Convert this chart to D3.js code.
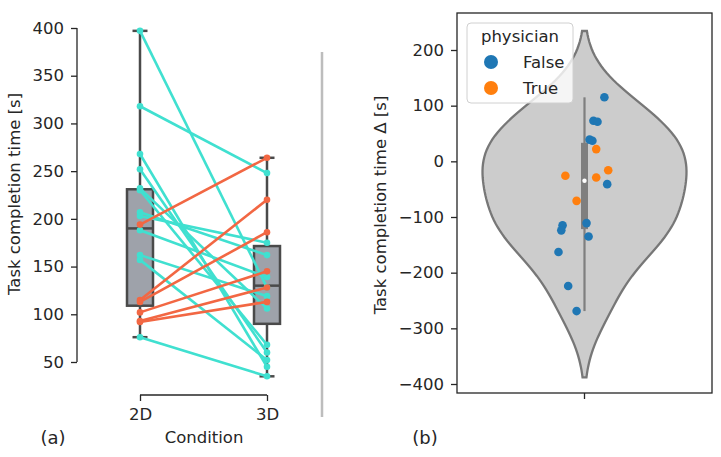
<!DOCTYPE html>
<html><head><meta charset="utf-8">
<script src="https://cdn.jsdelivr.net/npm/d3@7"></script>
<style>body{margin:0;background:#fff} text{font-family:"DejaVu Sans",sans-serif;fill:#262626}</style>
</head><body><svg id="c" width="721" height="457"></svg>
<script>
// ---- Panel (a): paired task completion times ----
const conditions = ["2D", "3D"];
const time2D = [194, 115, 113, 102, 93, 92, 397, 318, 268, 252, 232, 230, 207, 203, 188, 162, 157, 76];
const time3D = [264, 220, 186, 145, 128, 113, 128, 248, 45, 60, 106, 68, 162, 175, 139, 119, 52, 35];
const boxQ1 = [109, 90];
const boxMedian = [190, 130];
const boxQ3 = [231, 171.5];
const whiskerLow = [76, 35];
const whiskerHigh = [397, 264];
const leftTicks = [50, 100, 150, 200, 250, 300, 350, 400];

// ---- Panel (b): differences ----
const deltaValues = [115, 73, 71, 39, 37, -41, -111, -115, -124, -135, -163, -224, -269, 22, -16, -26, -29, -71];
const physician = [false, false, false, false, false, false, false, false, false, false, false, false, false, true, true, true, true, true];
const jitter = [0.078, 0.035, 0.051, 0.020, 0.031, 0.089, 0.008, -0.086, -0.091, 0.016, -0.102, -0.064, -0.031, 0.046, 0.093, -0.075, 0.046, -0.031];
const rightTicks = [-400, -300, -200, -100, 0, 100, 200];
const legendLabels = ["False", "True"];

const svg = d3.select("#c");
const FS = 16.5;
const dark = "#262626";

// ---------- Panel (a) ----------
const xA = d3.scalePoint().domain(conditions).range([140, 267]);
const yA = d3.scaleLinear().domain([50, 400]).range([362, 28]);
const gA = svg.append("g");
const boxW = 26;
conditions.forEach((c, i) => {
  const cx = xA(c);
  gA.append("line").attr("x1", cx).attr("x2", cx).attr("y1", yA(boxQ3[i])).attr("y2", yA(whiskerHigh[i])).attr("stroke", "#4a4a4a").attr("stroke-width", 2.5);
  gA.append("line").attr("x1", cx).attr("x2", cx).attr("y1", yA(boxQ1[i])).attr("y2", yA(whiskerLow[i])).attr("stroke", "#4a4a4a").attr("stroke-width", 2.5);
  [whiskerHigh[i], whiskerLow[i]].forEach(v => {
    gA.append("line").attr("x1", cx - 7.5).attr("x2", cx + 7.5).attr("y1", yA(v)).attr("y2", yA(v)).attr("stroke", "#4a4a4a").attr("stroke-width", 2.5);
  });
  gA.append("rect").attr("x", cx - boxW / 2).attr("width", boxW).attr("y", yA(boxQ3[i])).attr("height", yA(boxQ1[i]) - yA(boxQ3[i]))
    .attr("fill", "#9ea2aa").attr("stroke", "#4a4a4a").attr("stroke-width", 2.5);
  gA.append("line").attr("x1", cx - boxW / 2).attr("x2", cx + boxW / 2).attr("y1", yA(boxMedian[i])).attr("y2", yA(boxMedian[i])).attr("stroke", "#4a4a4a").attr("stroke-width", 2.5);
});
const pairs = time2D.map((v, i) => ({a: v, b: time3D[i], up: time3D[i] > v}));
const colUp = "#f26743", colDown = "#40e0d0";
const ordered = pairs.filter(p => !p.up).concat(pairs.filter(p => p.up));
ordered.forEach(p => {
  const col = p.up ? colUp : colDown;
  gA.append("line").attr("x1", xA("2D")).attr("y1", yA(p.a)).attr("x2", xA("3D")).attr("y2", yA(p.b))
    .attr("stroke", col).attr("stroke-width", 2.6);
  gA.append("circle").attr("cx", xA("2D")).attr("cy", yA(p.a)).attr("r", 3.3).attr("fill", col);
  gA.append("circle").attr("cx", xA("3D")).attr("cy", yA(p.b)).attr("r", 3.3).attr("fill", col);
});
const axL = svg.append("g").attr("transform", "translate(77,0)")
  .call(d3.axisLeft(yA).tickValues(leftTicks).tickSize(6).tickPadding(7));
axL.select(".domain").attr("stroke", dark).attr("stroke-width", 1.3).attr("d", `M0,${yA(400)}V${yA(50)}`);
axL.selectAll(".tick line").attr("stroke", dark).attr("stroke-width", 1.3);
axL.selectAll(".tick text").style("font-size", FS + "px").style("font-family", "DejaVu Sans").attr("fill", dark);
const axB = svg.append("g").attr("transform", "translate(0,395)")
  .call(d3.axisBottom(xA).tickSize(6).tickPadding(7));
axB.select(".domain").attr("stroke", dark).attr("stroke-width", 1.3).attr("d", `M${xA("2D")},0H${xA("3D")}`);
axB.selectAll(".tick line").attr("stroke", dark).attr("stroke-width", 1.3);
axB.selectAll(".tick text").style("font-size", FS + "px").style("font-family", "DejaVu Sans").attr("fill", dark);
svg.append("text").attr("x", 204).attr("y", 443).attr("text-anchor", "middle").style("font-size", FS + "px").text("Condition");
svg.append("text").attr("transform", "translate(20,194) rotate(-90)").attr("text-anchor", "middle").style("font-size", FS + "px").text("Task completion time [s]");
svg.append("text").attr("x", 53).attr("y", 444).attr("text-anchor", "middle").style("font-size", "18px").text("(a)");

svg.append("line").attr("x1", 322).attr("x2", 322).attr("y1", 52).attr("y2", 417).attr("stroke", "#bdbdbd").attr("stroke-width", 2.5);

// ---------- Panel (b) ----------
const xB = d3.scaleLinear().domain([-0.5, 0.5]).range([457, 712]);
const yB = d3.scaleLinear().domain([-400, 200]).range([384, 50]);
const gB = svg.append("g");
const n = deltaValues.length;
const sd = d3.deviation(deltaValues);
const bw = sd * Math.pow(n, -1 / 5);
const lo = d3.min(deltaValues) - 2 * bw, hi = d3.max(deltaValues) + 2 * bw;
const grid = d3.range(100).map(i => lo + (hi - lo) * i / 99);
const dens = grid.map(g => d3.sum(deltaValues, v => Math.exp(-0.5 * ((g - v) / bw) ** 2)));
const dmax = d3.max(dens);
const prof = grid.map((g, i) => ({v: g, w: dens[i] / dmax * 0.4}));
const area = d3.area().y(d => yB(d.v)).x0(d => xB(-d.w)).x1(d => xB(d.w));
gB.append("path").datum(prof).attr("d", area).attr("fill", "#cccccc").attr("stroke", "#777777").attr("stroke-width", 2.3);
const sorted = deltaValues.slice().sort(d3.ascending);
const q1 = d3.quantile(sorted, 0.25), q3 = d3.quantile(sorted, 0.75), med = d3.quantile(sorted, 0.5);
const iqr = q3 - q1;
const wLo = d3.min(sorted.filter(v => v >= q1 - 1.5 * iqr));
const wHi = d3.max(sorted.filter(v => v <= q3 + 1.5 * iqr));
gB.append("line").attr("x1", xB(0)).attr("x2", xB(0)).attr("y1", yB(wLo)).attr("y2", yB(wHi)).attr("stroke", "#7f7f7f").attr("stroke-width", 2.2);
gB.append("line").attr("x1", xB(0)).attr("x2", xB(0)).attr("y1", yB(q1)).attr("y2", yB(q3)).attr("stroke", "#7f7f7f").attr("stroke-width", 7);
gB.append("circle").attr("cx", xB(0)).attr("cy", yB(med)).attr("r", 2.2).attr("fill", "white");
deltaValues.forEach((v, i) => {
  gB.append("circle").attr("cx", xB(jitter[i])).attr("cy", yB(v)).attr("r", 4.3)
    .attr("fill", physician[i] ? "#ff7f0e" : "#1f77b4");
});
svg.append("rect").attr("x", 457).attr("y", 13).attr("width", 712 - 457).attr("height", 393 - 13)
  .attr("fill", "none").attr("stroke", dark).attr("stroke-width", 1.3);
const axR = svg.append("g").attr("transform", "translate(457,0)")
  .call(d3.axisLeft(yB).tickValues(rightTicks).tickSize(6).tickPadding(7).tickFormat(d => d < 0 ? "\u2212" + Math.abs(d) : d));
axR.select(".domain").remove();
axR.selectAll(".tick line").attr("stroke", dark).attr("stroke-width", 1.3);
axR.selectAll(".tick text").style("font-size", FS + "px").style("font-family", "DejaVu Sans").attr("fill", dark);
svg.append("line").attr("x1", xB(0)).attr("x2", xB(0)).attr("y1", 393).attr("y2", 399).attr("stroke", dark).attr("stroke-width", 1.3);
svg.append("text").attr("transform", "translate(386,205) rotate(-90)").attr("text-anchor", "middle").style("font-size", FS + "px").text("Task completion time \u0394 [s]");
svg.append("text").attr("x", 425).attr("y", 444).attr("text-anchor", "middle").style("font-size", "18px").text("(b)");

const lg = svg.append("g");
lg.append("rect").attr("x", 467).attr("y", 23).attr("width", 106).attr("height", 80).attr("rx", 4)
  .attr("fill", "white").attr("fill-opacity", 0.8).attr("stroke", "#d0d0d0").attr("stroke-width", 1);
lg.append("text").attr("x", 520).attr("y", 42).attr("text-anchor", "middle").style("font-size", FS + "px").text("physician");
legendLabels.forEach((l, i) => {
  const cy = 62 + i * 26;
  lg.append("circle").attr("cx", 491).attr("cy", cy).attr("r", 7).attr("fill", i === 0 ? "#1f77b4" : "#ff7f0e");
  lg.append("text").attr("x", 523).attr("y", cy + 6).style("font-size", FS + "px").text(l);
});
</script></body></html>
